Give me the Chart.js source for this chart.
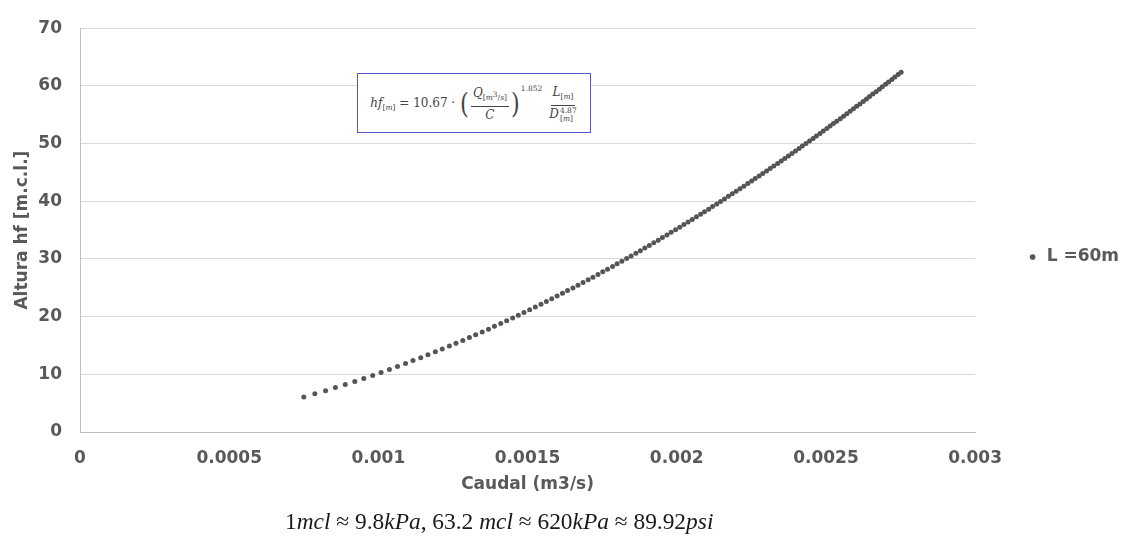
<!DOCTYPE html>
<html>
<head>
<meta charset="utf-8">
<script src="https://cdn.jsdelivr.net/npm/chart.js@4.4.0/dist/chart.umd.min.js"></script>
<style>
html,body{margin:0;padding:0;background:#fff;}
#wrap{position:relative;width:1123px;height:542px;overflow:hidden;background:#fff;}
#c{position:absolute;left:0;top:0;}
#eq{position:absolute;left:357px;top:73px;width:232px;height:58px;border:1.5px solid #5555d0;background:#fff;display:flex;align-items:center;justify-content:center;font-family:"DejaVu Serif","Liberation Serif",serif;font-size:12px;color:#444;white-space:nowrap;}
#eq sub{font-size:7.5px;vertical-align:-3px;}
#eq sup{font-size:7.5px;}
.frac{display:inline-flex;flex-direction:column;align-items:center;vertical-align:middle;margin:0 1px;}
.num{border-bottom:1px solid #444;padding:0 2px 1px 2px;line-height:14px;}
.den{line-height:14px;padding-top:1px;}
.paren{font-size:28px;font-weight:200;vertical-align:middle;line-height:20px;transform:scaleX(0.8);display:inline-block;}
.ex{vertical-align:16px;margin-right:6px;}
.ss{display:inline-flex;flex-direction:column;vertical-align:middle;line-height:7.5px;font-size:7.5px;margin-left:1px;}
#note{position:absolute;left:285px;top:506px;font-family:"Liberation Serif","DejaVu Serif",serif;font-size:23.4px;color:#1a1a1a;white-space:nowrap;line-height:30px;}
</style>
</head>
<body>
<div id="wrap">
<canvas id="c" width="1123" height="542"></canvas>
<div id="eq"><span><i>hf</i><sub>[<i>m</i>]</sub> = 10.67 · <span class="paren">(</span><span class="frac"><span class="num"><i>Q</i><sub>[<i>m</i><sup>3</sup>/<i>s</i>]</sub></span><span class="den"><i>C</i></span></span><span class="paren">)</span><sup class="ex">1.852</sup><span class="frac"><span class="num"><i>L</i><sub>[<i>m</i>]</sub></span><span class="den"><i>D</i><span class="ss"><span>4.87</span><span>[<i>m</i>]</span></span></span></span></span></div>
<div id="note">1<i>mcl</i> ≈ 9.8<i>kPa</i>, 63.2 <i>mcl</i> ≈ 620<i>kPa</i> ≈ 89.92<i>psi</i></div>
</div>
<script>
const seriesLabel = 'L =60m';
const xTitle = 'Caudal (m3/s)';
const yTitle = 'Altura hf [m.c.l.]';

const xTickValues = [0, 0.0005, 0.001, 0.0015, 0.002, 0.0025, 0.003];
const xTickLabels = ['0', '0.0005', '0.001', '0.0015', '0.002', '0.0025', '0.003'];
const yTickValues = [0, 10, 20, 30, 40, 50, 60, 70];
const yTickLabels = ['0', '10', '20', '30', '40', '50', '60', '70'];

const caudal = [
  0.000750, 0.000787, 0.000823, 0.000856, 0.000889, 0.000921, 0.000951, 0.000981, 0.001009, 0.001037,
  0.001064, 0.001091, 0.001116, 0.001142, 0.001166, 0.001191, 0.001214, 0.001238, 0.001260, 0.001283,
  0.001305, 0.001326, 0.001348, 0.001369, 0.001389, 0.001410, 0.001430, 0.001450, 0.001469, 0.001488,
  0.001507, 0.001526, 0.001545, 0.001563, 0.001581, 0.001599, 0.001617, 0.001634, 0.001652, 0.001669,
  0.001686, 0.001703, 0.001719, 0.001736, 0.001752, 0.001768, 0.001785, 0.001800, 0.001816, 0.001832,
  0.001847, 0.001863, 0.001878, 0.001893, 0.001908, 0.001923, 0.001938, 0.001952, 0.001967, 0.001981,
  0.001996, 0.002010, 0.002024, 0.002038, 0.002052, 0.002066, 0.002080, 0.002093, 0.002107, 0.002120,
  0.002134, 0.002147, 0.002160, 0.002173, 0.002186, 0.002199, 0.002212, 0.002225, 0.002238, 0.002251,
  0.002263, 0.002276, 0.002288, 0.002301, 0.002313, 0.002325, 0.002338, 0.002350, 0.002362, 0.002374,
  0.002386, 0.002398, 0.002410, 0.002421, 0.002433, 0.002445, 0.002457, 0.002468, 0.002480, 0.002491,
  0.002503, 0.002514, 0.002525, 0.002536, 0.002548, 0.002559, 0.002570, 0.002581, 0.002592, 0.002603,
  0.002614, 0.002625, 0.002636, 0.002646, 0.002657, 0.002668, 0.002679, 0.002689, 0.002700, 0.002710,
  0.002721, 0.002731, 0.002742, 0.002752
];
const alturaHf = [
  6.06, 6.61, 7.16, 7.70, 8.23, 8.76, 9.29, 9.81, 10.33, 10.84,
  11.36, 11.87, 12.38, 12.88, 13.39, 13.89, 14.39, 14.89, 15.38, 15.87,
  16.37, 16.86, 17.35, 17.83, 18.32, 18.80, 19.28, 19.77, 20.25, 20.72,
  21.20, 21.68, 22.15, 22.63, 23.10, 23.57, 24.04, 24.51, 24.98, 25.45,
  25.91, 26.38, 26.84, 27.31, 27.77, 28.23, 28.69, 29.15, 29.61, 30.07,
  30.53, 30.98, 31.44, 31.89, 32.35, 32.80, 33.25, 33.71, 34.16, 34.61,
  35.06, 35.51, 35.96, 36.40, 36.85, 37.30, 37.75, 38.19, 38.63, 39.08,
  39.52, 39.97, 40.41, 40.85, 41.29, 41.73, 42.17, 42.62, 43.06, 43.50,
  43.93, 44.37, 44.81, 45.24, 45.68, 46.12, 46.55, 46.99, 47.42, 47.86,
  48.29, 48.72, 49.16, 49.59, 50.02, 50.45, 50.89, 51.32, 51.75, 52.17,
  52.60, 53.03, 53.46, 53.89, 54.32, 54.75, 55.17, 55.60, 56.03, 56.45,
  56.88, 57.30, 57.73, 58.15, 58.58, 59.00, 59.42, 59.85, 60.27, 60.69,
  61.11, 61.54, 61.96, 62.38
];

const points = caudal.map((q, i) => ({x: q, y: alturaHf[i]}));

const txtFont = {family: 'DejaVu Sans', size: 17, weight: 'bold'};
const gray = '#595959';

new Chart(document.getElementById('c'), {
  type: 'scatter',
  data: {
    datasets: [{
      label: seriesLabel,
      data: points,
      pointRadius: 2.5,
      pointHoverRadius: 2.5,
      pointBorderWidth: 0,
      backgroundColor: '#555555',
      borderColor: '#555555',
      showLine: false
    }]
  },
  options: {
    responsive: false,
    animation: false,
    devicePixelRatio: 1,
    layout: {padding: {top: 16, bottom: 44, left: 0, right: -6}},
    plugins: {
      legend: {
        position: 'right',
        align: 'center',
        labels: {
          usePointStyle: true,
          pointStyle: 'circle',
          boxWidth: 11,
          boxHeight: 4,
          padding: 52,
          color: gray,
          font: txtFont
        }
      },
      tooltip: {enabled: false}
    },
    scales: {
      x: {
        type: 'linear',
        min: 0,
        max: 0.003,
        afterBuildTicks: s => { s.ticks = xTickValues.map(v => ({value: v})); },
        afterFit: s => { s.height = 66; },
        grid: {display: false, drawTicks: false},
        border: {display: true, color: '#bfbfbf', width: 1},
        ticks: {padding: 16, color: gray, font: txtFont, maxRotation: 0,
          callback: (v, i) => xTickLabels[i]},
        title: {display: true, text: xTitle, color: gray, font: txtFont, padding: {top: 0, bottom: 3}}
      },
      y: {
        type: 'linear',
        min: 0,
        max: 70,
        afterBuildTicks: s => { s.ticks = yTickValues.map(v => ({value: v})); },
        afterFit: s => { s.width = 80; },
        grid: {color: '#d9d9d9', drawTicks: false, lineWidth: 1},
        border: {display: true, color: '#bfbfbf', width: 1},
        ticks: {padding: 18, color: gray, font: txtFont,
          callback: (v, i) => yTickLabels[i]},
        title: {display: true, text: yTitle, color: gray, font: txtFont, padding: {top: 12, bottom: 0}}
      }
    }
  }
});
</script>
</body>
</html>
